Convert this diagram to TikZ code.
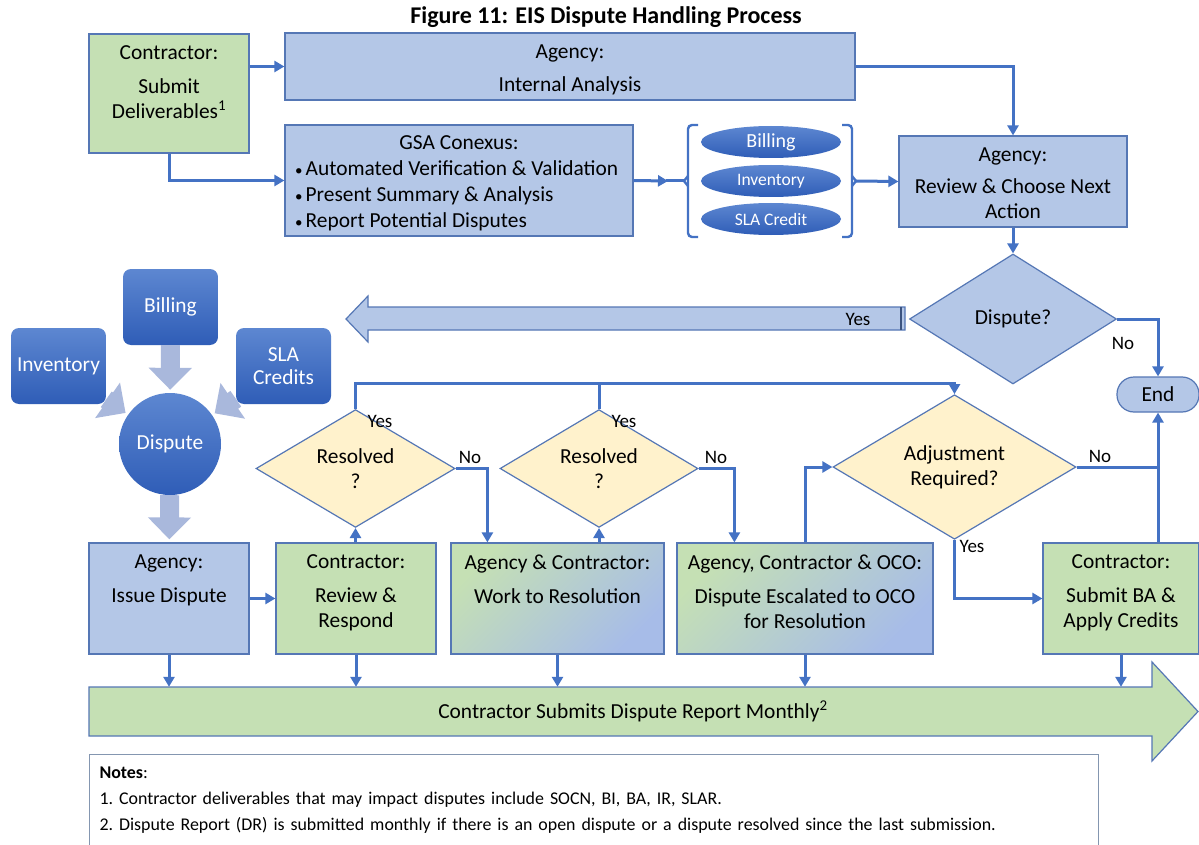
\documentclass[tikz,border=0pt]{standalone}
\usepackage{fontspec}
\setmainfont{Carlito}
\usetikzlibrary{arrows.meta,shapes.geometric,calc}

\definecolor{boxblue}{HTML}{B4C7E7}
\definecolor{boxgreen}{HTML}{C5E0B4}
\definecolor{edgeblue}{HTML}{5577B5}
\definecolor{lineblue}{HTML}{4472C4}
\definecolor{paleyellow}{HTML}{FFF2CC}
\definecolor{deeptop}{HTML}{5D87D1}
\definecolor{deepbot}{HTML}{2F5DB7}
\definecolor{fatblue}{HTML}{A9B8DC}
\definecolor{mixblue}{HTML}{A7BCE8}
\definecolor{notegray}{HTML}{8496B0}

\newcommand{\bodyfont}{\fontsize{21.4}{25}\selectfont}
\newcommand{\tagfont}{\fontsize{19}{22}\selectfont}
\newcommand{\notefont}{\fontsize{17.9}{26}\selectfont\frenchspacing}
\newcommand{\gsabullet}{{\fontsize{15}{15}\selectfont\textbullet}\kern3pt}

\begin{document}
\begin{tikzpicture}[x=1pt,y=-1pt,
  box/.style={draw=edgeblue,line width=1.2pt,inner sep=0pt,rectangle},
  bluebox/.style={box,fill=boxblue},
  greenbox/.style={box,fill=boxgreen},
  mixbox/.style={box,top color=boxgreen,bottom color=mixblue,shading angle=45},
  decision/.style={diamond,draw=edgeblue,line width=1.2pt,inner sep=0pt,font=\bodyfont,align=center},
  deep/.style={top color=deeptop,bottom color=deepbot,text=white,font=\bodyfont,align=center,inner sep=0pt},
  boxtext/.style={anchor=north,align=center,inner sep=0pt,font=\bodyfont},
  tag/.style={inner sep=0pt,font=\tagfont},
  flow/.style={draw=lineblue,line width=3pt,-{Triangle[length=10pt,width=11pt]}},
  link/.style={draw=lineblue,line width=3pt},
  fat/.style={draw=fatblue,line width=19pt,-{Triangle[length=22pt,width=42pt]},shorten >=3pt},
  brace/.style={draw=lineblue,line width=2.4pt,rounded corners=4pt}]
\fill[white] (0,0) rectangle (1199,845);
\useasboundingbox (0,0) rectangle (1199,845);

\node (title) at (606,17) {\fontsize{24}{28}\selectfont\bfseries Figure 11: EIS Dispute Handling Process};

% top row
\node (contr) [greenbox,minimum width=160pt,minimum height=119pt] at (169,93.5) {};
\node (contrt) [boxtext] at ([yshift=-12pt]contr.north) {Contractor:\\[9pt]Submit\\Deliverables\textsuperscript{1}};
\node (intern) [bluebox,minimum width=570pt,minimum height=67pt] at (570,66.5) {};
\node (internt) [boxtext] at ([yshift=-12pt]intern.north) {Agency:\\[8pt]Internal Analysis};
\node (gsa) [bluebox,minimum width=348pt,minimum height=111pt] at (459,180.5) {};
\node (gsat) [boxtext] at ([yshift=-11pt]gsa.north) {GSA Conexus:};
\node (gsalist) [anchor=north west,align=left,inner sep=0pt,font=\fontsize{21.4}{26}\selectfont] at (295,160) {\gsabullet Automated Verification \& Validation\\ \gsabullet Present Summary \& Analysis\\ \gsabullet Report Potential Disputes};

% billing items
\node (bil) [deep,ellipse,minimum width=140pt,minimum height=32pt,font=\fontsize{20}{24}\selectfont] at (771,142) {Billing};
\node (inv) [deep,ellipse,minimum width=140pt,minimum height=32pt,font=\fontsize{17.5}{20}\selectfont] at (771,181) {Inventory};
\node (sla) [deep,ellipse,minimum width=140pt,minimum height=32pt,font=\fontsize{17.5}{20}\selectfont] at (771,219) {SLA Credit};
\coordinate (lbr) at (684,181);
\coordinate (rbr) at (856,181);
\draw[brace] (698,125) -- (688,125) -- (688,237) -- (698,237);
\draw[brace] (842,125) -- (852,125) -- (852,237) -- (842,237);
\draw[link,line width=2.4pt] (688,176) -- (lbr) -- (688,186);
\draw[link,line width=2.4pt] (852,176) -- (rbr) -- (852,186);

\node (review) [bluebox,minimum width=228pt,minimum height=91pt] at (1013,181.5) {};
\node (reviewt) [boxtext] at ([yshift=-12pt]review.north) {Agency:\\[7pt]Review \& Choose Next\\Action};

% dispute decision
\draw[draw=edgeblue,fill=boxblue,line width=1.2pt] (905,307) -- (368,307) -- (368,296) -- (346,319) -- (368,342) -- (368,330) -- (905,330) -- cycle;
\draw[draw=edgeblue!70!black,line width=1.2pt] (901,307) -- (901,330);
\node (yesbig) [tag] at (858,319) {Yes};
\node (dispq) [decision,fill=boxblue,minimum width=207pt,minimum height=130pt] at (1013,319) {Dispute?};
\node (endn) [bluebox,rounded corners=17pt,minimum width=82pt,minimum height=35pt,font=\bodyfont] at (1158,394.5) {End};

% sources of disputes
\node (billc) [deep,rounded corners=8pt,minimum width=95pt,minimum height=76pt] at (170.5,307) {Billing};
\node (invc) [deep,rounded corners=8pt,minimum width=95pt,minimum height=76pt] at (58.5,366) {Inventory};
\node (slac) [deep,rounded corners=8pt,minimum width=95pt,minimum height=76pt,font=\fontsize{21.4}{23}\selectfont] at (283.5,366) {SLA\\Credits};
\node (dispc) [deep,circle,minimum size=102pt] at (170,444) {Dispute};

% bottom row
\node (issue) [bluebox,minimum width=160pt,minimum height=111pt] at (169,598.5) {};
\node (issuet) [boxtext] at ([yshift=-12pt]issue.north) {Agency:\\[9pt]Issue Dispute};
\node (respond) [greenbox,minimum width=160pt,minimum height=111pt] at (356,598.5) {};
\node (respondt) [boxtext] at ([yshift=-12pt]respond.north) {Contractor:\\[9pt]Review \&\\Respond};
\node (work) [mixbox,minimum width=213pt,minimum height=111pt] at (557.5,598.5) {};
\node (workt) [boxtext] at ([yshift=-12pt]work.north) {Agency \& Contractor:\\[9pt]Work to Resolution};
\node (escal) [mixbox,minimum width=256pt,minimum height=111pt] at (805,598.5) {};
\node (escalt) [boxtext] at ([yshift=-12pt]escal.north) {Agency, Contractor \& OCO:\\[9pt]Dispute Escalated to OCO\\for Resolution};
\node (submit) [greenbox,minimum width=156pt,minimum height=111pt] at (1121,598.5) {};
\node (submitt) [boxtext] at ([yshift=-12pt]submit.north) {Contractor:\\[9pt]Submit BA \&\\Apply Credits};

\node (res1) [decision,fill=paleyellow,minimum width=199pt,minimum height=113pt] at (355.5,468.5) {Resolved\\?};
\node (res2) [decision,fill=paleyellow,minimum width=198pt,minimum height=113pt] at (599,468.5) {Resolved\\?};
\node (adj) [decision,fill=paleyellow,minimum width=243pt,minimum height=120pt] at (954.5,467) {Adjustment\\Required?};

% monthly report
\draw[draw=edgeblue,fill=boxgreen,line width=1.2pt] (89,687) -- (1152,687) -- (1152,662) -- (1198,711.5) -- (1152,761) -- (1152,736) -- (89,736) -- cycle;
\node (report) [inner sep=0pt,minimum height=49pt,font=\bodyfont] at (633,711.5) {Contractor Submits Dispute Report Monthly\textsuperscript{2}};

\node (notes) [draw=notegray,line width=1pt,anchor=north west,text width=989pt,inner xsep=10pt,inner ysep=0pt,minimum height=91pt,align=left,font=\notefont] at (89,754) {\textbf{Notes}:\\1. Contractor deliverables that may impact disputes include SOCN, BI, BA, IR, SLAR.\\2. Dispute Report (DR) is submitted monthly if there is an open dispute or a dispute resolved since the last submission.};

% connectors
\draw[fat] (billc) -- (dispc);
\draw[fat] (invc) -- (dispc);
\draw[fat] (slac) -- (dispc);
\draw[fat] (dispc) -- (issue);
\draw[flow] (contr.east |- intern.west) -- (intern.west);
\draw[flow] (contr.south) |- (gsa.west);
\draw[flow] (gsa.east) -- ($(lbr)+(-16,0)$);
\draw[link] ($(lbr)+(-18,0)$) -- (lbr);
\draw[flow] (rbr) -- (review.west);
\draw[flow] (intern.east) -| (review.north);
\draw[flow] (review.south) -- (dispq.north);
\draw[flow] (dispq.east) -| (endn.north);
\draw[flow] (issue.east) -- (respond.west);
\draw[flow] (res1.south |- respond.north) -- (res1.south);
\draw[flow] (res1.east) -| ($(work.north west)+(37,0)$);
\draw[flow] (res2.south |- work.north) -- (res2.south);
\draw[flow] (res2.east) -| ($(escal.north west)+(58,0)$);
\coordinate (bus) at (355.5,383);
\draw[flow] (res1.north) -- (bus) -| (adj.north);
\draw[link] (res2.north) -- (res2.north |- bus);
\draw[flow] (escal.north) |- (adj.west);
\draw[link] (adj.east) -- (adj.east -| endn.south);
\draw[flow] (adj.south) |- (submit.west);
\draw[flow] (submit.north -| endn.south) -- (endn.south);
\foreach \b in {issue,respond,work,escal,submit}
  \draw[flow] (\b.south) -- (\b.south |- report.north);

\node (no1) [tag] at (1123,343) {No};
\node (yes1) [tag] at (380,421) {Yes};
\node (no2) [tag] at (470,457) {No};
\node (yes2) [tag] at (624,421) {Yes};
\node (no3) [tag] at (716,457) {No};
\node (no4) [tag] at (1100,456) {No};
\node (yes3) [tag] at (972,546) {Yes};
\end{tikzpicture}
\end{document}
